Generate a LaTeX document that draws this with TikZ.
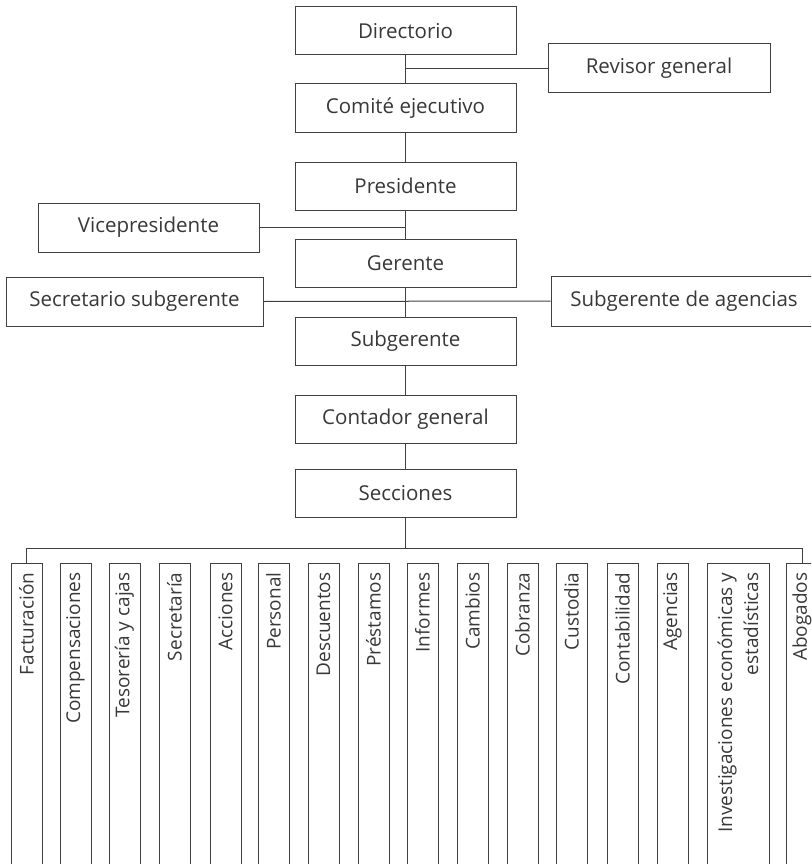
\documentclass[tikz,border=0pt]{standalone}
\usepackage{fontspec}
\setmainfont{Open Sans}
\usepackage{tikz}

\begin{document}
\begin{tikzpicture}[x=1pt,y=-1pt,line width=1pt,
		every node/.style={text=black!78,font=\fontsize{20.5}{24}\selectfont},
		box/.style={draw=black!75,minimum width=221pt,minimum height=48pt,inner sep=0pt},
		col/.style={draw=black!75,minimum width=31pt,minimum height=340pt,inner sep=0pt,anchor=north},
		lab/.style={rotate=90,anchor=east,align=right,inner sep=0pt,font=\fontsize{19}{26}\selectfont},
		link/.style={draw=black!75}]
		\useasboundingbox (0,0) rectangle (811,864);
		\clip (0,0) rectangle (811,864);
		\node[box] (dir) at (405.5,31) {Directorio};
		\node[box,minimum width=222pt,minimum height=49pt] (rev) at (659,68.5) {Revisor general};
		\node[box] (com) at (405.5,108) {Comité ejecutivo};
		\node[box] (pres) at (405.5,186) {Presidente};
		\node[box,minimum height=49pt] (vice) at (148.5,227.5) {Vicepresidente};
		\node[box] (ger) at (405.5,263) {Gerente};
		\node[box,minimum width=257pt,minimum height=49pt] (sec) at (134.5,301.5) {Secretario subgerente};
		\node[box,minimum width=266pt,minimum height=50pt] (subag) at (684,301) {Subgerente de agencias};
		\node[box] (sub) at (405.5,341) {Subgerente};
		\node[box] (cont) at (405.5,419) {Contador general};
		\node[box] (secc) at (405.5,493) {Secciones};
		\node[col] (fac) at (26.5,563) {}; \node[lab] at ([yshift=-9pt]fac.north) {Facturación};
		\node[col] (comp) at (75.5,563) {}; \node[lab] at ([yshift=-9pt]comp.north) {Compensaciones};
		\node[col] (tes) at (124.5,563) {}; \node[lab] at ([yshift=-9pt]tes.north) {Tesorería y cajas};
		\node[col] (secr) at (174.5,563) {}; \node[lab] at ([yshift=-9pt]secr.north) {Secretaría};
		\node[col] (acc) at (225.5,563) {}; \node[lab] at ([yshift=-9pt]acc.north) {Acciones};
		\node[col] (pers) at (273.5,563) {}; \node[lab] at ([yshift=-9pt]pers.north) {Personal};
		\node[col] (desc) at (323.5,563) {}; \node[lab] at ([yshift=-9pt]desc.north) {Descuentos};
		\node[col] (prest) at (373.5,563) {}; \node[lab] at ([yshift=-9pt]prest.north) {Préstamos};
		\node[col] (inf) at (422.5,563) {}; \node[lab] at ([yshift=-9pt]inf.north) {Informes};
		\node[col] (camb) at (472.5,563) {}; \node[lab] at ([yshift=-9pt]camb.north) {Cambios};
		\node[col] (cob) at (522.5,563) {}; \node[lab] at ([yshift=-9pt]cob.north) {Cobranza};
		\node[col] (cust) at (571.5,563) {}; \node[lab] at ([yshift=-9pt]cust.north) {Custodia};
		\node[col] (contab) at (622.5,563) {}; \node[lab] at ([yshift=-9pt]contab.north) {Contabilidad};
		\node[col] (ag) at (672.5,563) {}; \node[lab] at ([yshift=-9pt]ag.north) {Agencias};
		\node[col,minimum width=62pt] (inv) at (738,563) {}; \node[lab] at ([yshift=-9pt]inv.north) {Investigaciones económicas y\\estadísticas};
		\node[col] (abo) at (802,563) {}; \node[lab] at ([yshift=-9pt]abo.north) {Abogados};
		\path (fac.north) ++(0,-15) coordinate (bus);
		\draw[link] (dir) -- (com);
		\draw[link] (rev.west) -- (rev.west -| dir.south);
		\draw[link] (com) -- (pres);
		\draw[link] (pres) -- (ger);
		\draw[link] (vice.east) -- (vice.east -| pres.south);
		\draw[link] (ger) -- (sub);
		\draw[link] (sec.east) -- (subag.west);
		\draw[link] (sub) -- (cont);
		\draw[link] (cont) -- (secc);
		\draw[link] (secc.south) -- (secc.south |- bus);
		\draw[link] (fac.north) -- (bus) -| (abo.north);
	\end{tikzpicture}
\end{document}
